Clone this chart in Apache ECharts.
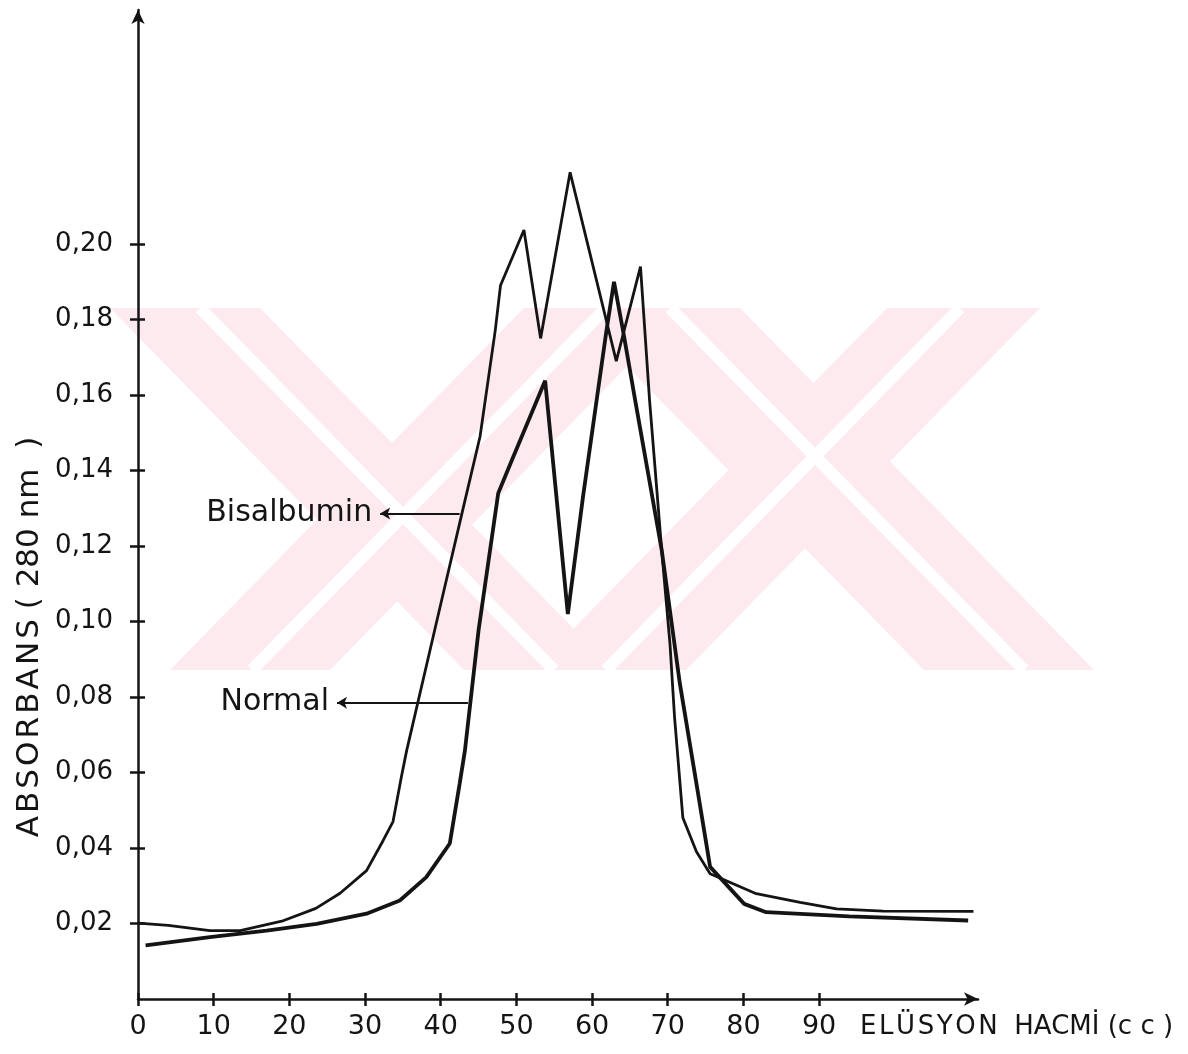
<!DOCTYPE html>
<html>
<head>
<meta charset="utf-8">
<script src="https://cdn.jsdelivr.net/npm/echarts@6/dist/echarts.min.js"></script>
<style>
  html, body { margin: 0; padding: 0; background: #fff; }
  #chart { width: 1188px; height: 1054px; }
</style>
</head>
<body>
<div id="chart"></div>
<script>
// elusyon hacmi (cc) / absorbans
const bisX = [0, 4, 9.5, 13.5, 19, 23.5, 26.7, 30.2, 32.4, 33.7, 34.8, 35.5, 39.9, 42.8, 45.2, 47.2, 47.9, 51.0, 53.2, 57.1, 63.2, 66.4, 67.6, 69.2, 70.3, 70.9, 72.0, 73.8, 75.6, 81.7, 87.5, 92.3, 98.5, 110.4];
const bisY = [0.0201, 0.0195, 0.0181, 0.0181, 0.0206, 0.024, 0.028, 0.034, 0.042, 0.047, 0.0588, 0.0658, 0.1037, 0.1286, 0.149, 0.177, 0.189, 0.2037, 0.175, 0.219, 0.169, 0.194, 0.1586, 0.119, 0.094, 0.0747, 0.048, 0.039, 0.0332, 0.0279, 0.0256, 0.0239, 0.0233, 0.0232];

const normX = [1, 9.5, 17, 23.6, 30.2, 34.6, 38.1, 41.2, 42.5, 43.2, 45, 47.6, 49.4, 53.8, 56.8, 58.8, 61.9, 62.9, 64.1, 65.7, 69.2, 71.6, 73.8, 75.6, 80.1, 83, 94, 109.7];
const normY = [0.0142, 0.0164, 0.0181, 0.0199, 0.0226, 0.0261, 0.0323, 0.0412, 0.057, 0.0658, 0.0976, 0.134, 0.1427, 0.1638, 0.102, 0.133, 0.177, 0.190, 0.177, 0.1586, 0.119, 0.0836, 0.057, 0.035, 0.0252, 0.023, 0.0219, 0.0208];

const xTicks = [0, 10, 20, 30, 40, 50, 60, 70, 80, 90];
const yTicks = [0.02, 0.04, 0.06, 0.08, 0.10, 0.12, 0.14, 0.16, 0.18, 0.20];

// label arrows (start -> end, in data units)
const bisArrow = [[32.0, 0.1286], [42.5, 0.1286]];
const normArrow = [[26.3, 0.0785], [43.6, 0.0785]];

const ink = '#141414';
const font = 'DejaVu Sans';
const hair = '\u200A';

const pair = (xs, ys) => xs.map((x, i) => [x, ys[i]]);
const spaced = s => s.split('').join(hair);

const arrowLine = (name, pts) => ({
  silent: true,
  symbol: ['arrow', 'none'],
  symbolSize: [9, 10],
  lineStyle: { color: ink, width: 2, type: 'solid' },
  label: {
    show: true, position: 'start', distance: 8, formatter: name,
    color: ink, fontSize: 30, fontFamily: font
  },
  data: [[{ coord: pts[0] }, { coord: pts[1] }]]
});

// pinkish watermark bands in the background
const pink = '#fdeaee';
const band = (t0, t1, b0, b1) => ({
  type: 'polygon', z: -10, silent: true,
  shape: { points: [[t0, 308], [t1, 308], [b1, 670], [b0, 670]] },
  style: { fill: pink }
});
const stripe = (t, b) => ({
  type: 'line', z: -9, silent: true,
  shape: { x1: t, y1: 308, x2: b, y2: 670 },
  style: { stroke: '#fff', lineWidth: 12 }
});

const chart = echarts.init(document.getElementById('chart'));

const xBase = {
  type: 'value', min: 0, max: 111, interval: 10,
  splitLine: { show: false }
};
const yBase = {
  type: 'value', min: 0, max: 0.262, interval: 0.02,
  splitLine: { show: false }
};

chart.setOption({
  backgroundColor: '#fff',
  animation: false,
  grid: { left: 138, right: 210, top: 10, bottom: 55, containLabel: false },
  xAxis: [
    Object.assign({}, xBase, {
      position: 'bottom',
      axisLine: { show: true, symbol: ['none', 'arrow'], symbolSize: [10, 14], lineStyle: { color: ink, width: 2.5 } },
      axisTick: { show: true, inside: false, length: 7, customValues: xTicks, lineStyle: { color: ink, width: 2.5 } },
      axisLabel: { show: true, customValues: xTicks, margin: 14, color: ink, fontSize: 27, fontFamily: font }
    }),
    // second copy only for the inner half of the cross-shaped ticks
    Object.assign({}, xBase, {
      position: 'bottom',
      axisLine: { show: false, onZero: false },
      axisTick: { show: true, inside: true, length: 6, customValues: xTicks, lineStyle: { color: ink, width: 2.5 } },
      axisLabel: { show: false }
    })
  ],
  yAxis: [
    Object.assign({}, yBase, {
      position: 'left',
      axisLine: { show: true, symbol: ['none', 'arrow'], symbolSize: [10, 14], lineStyle: { color: ink, width: 2.5 } },
      axisTick: { show: true, inside: false, length: 8, customValues: yTicks, lineStyle: { color: ink, width: 2.5 } },
      axisLabel: {
        show: true, customValues: yTicks, margin: 25, color: ink, fontSize: 26, fontFamily: font,
        formatter: v => v.toFixed(2).replace('.', ',')
      }
    }),
    Object.assign({}, yBase, {
      position: 'left',
      axisLine: { show: false, onZero: false },
      axisTick: { show: true, inside: true, length: 7, customValues: yTicks, lineStyle: { color: ink, width: 2.5 } },
      axisLabel: { show: false }
    })
  ],
  graphic: [
    band(110, 260, 464, 614),
    band(524, 684, 170, 330),
    band(570, 740, 924, 1094),
    band(887, 1040, 533, 686),
    stripe(200, 554),
    stripe(606, 252),
    stripe(670, 1024),
    stripe(960, 606),
    {
      type: 'text', left: 860, top: 1014,
      style: { text: spaced('ELÜSYON') + '  HACMİ (c c )', fill: ink, fontSize: 26, fontFamily: font }
    },
    {
      type: 'text', x: 14, y: 637, rotation: Math.PI / 2,
      style: {
        text: spaced('ABSORBANS') + ' ( 280 nm  )',
        fill: ink, fontSize: 31, fontFamily: font,
        align: 'center', verticalAlign: 'top'
      }
    }
  ],
  series: [
    {
      name: 'Bisalbumin', type: 'line',
      xAxisIndex: 0, yAxisIndex: 0,
      data: pair(bisX, bisY),
      showSymbol: false, smooth: false,
      lineStyle: { color: ink, width: 2.8 },
      markLine: arrowLine('Bisalbumin', bisArrow)
    },
    {
      name: 'Normal', type: 'line',
      xAxisIndex: 1, yAxisIndex: 1,
      data: pair(normX, normY),
      showSymbol: false, smooth: false,
      lineStyle: { color: ink, width: 3.8 },
      markLine: arrowLine('Normal', normArrow)
    }
  ]
});
</script>
</body>
</html>
